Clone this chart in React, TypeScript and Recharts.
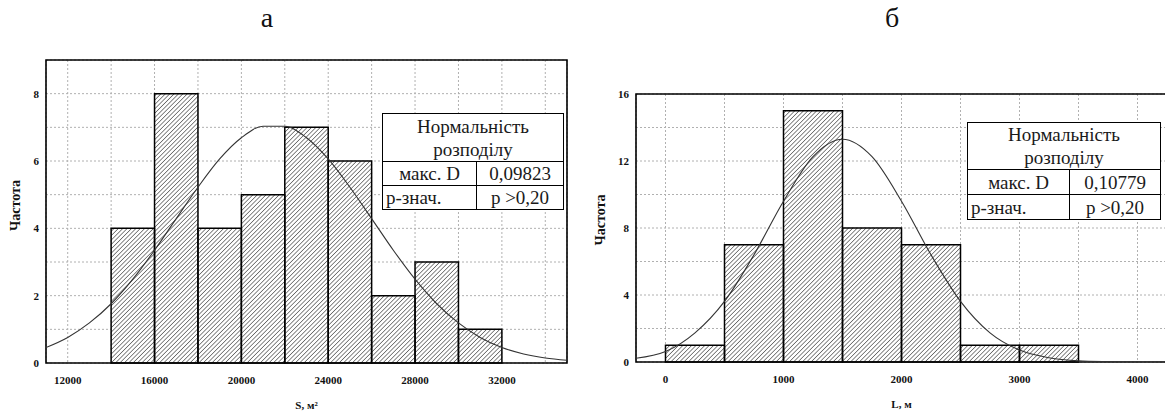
import { ComposedChart, Line, XAxis, YAxis, CartesianGrid, ReferenceArea } from 'recharts'

// panel "а" — площа S, м²
const areaEdges = [14000, 16000, 18000, 20000, 22000, 24000, 26000, 28000, 30000, 32000]
const areaCounts = [4, 8, 4, 5, 7, 6, 2, 3, 1]
const areaCurveX = [
  11000, 12000, 13000, 14000, 15000, 16000, 17000, 18000, 19000, 20000, 21000, 22000, 23000,
  24000, 25000, 26000, 27000, 28000, 29000, 30000, 31000, 32000, 33000, 34000, 35000,
]
const areaCurveY = [
  0.46, 0.76, 1.19, 1.76, 2.49, 3.35, 4.29, 5.22, 6.06, 6.69, 7.03, 7.03, 6.69,
  6.06, 5.22, 4.29, 3.35, 2.49, 1.76, 1.19, 0.76, 0.46, 0.27, 0.15, 0.08,
]
const areaXTicks = [12000, 14000, 16000, 18000, 20000, 22000, 24000, 26000, 28000, 30000, 32000, 34000]
const areaXLabels = [12000, 16000, 20000, 24000, 28000, 32000]
const areaYTicks = [0, 1, 2, 3, 4, 5, 6, 7, 8, 9]
const areaYLabels = [0, 2, 4, 6, 8]
const areaStats = ['0,09823', 'p >0,20']

// panel "б" — довжина L, м
const lengthEdges = [0, 500, 1000, 1500, 2000, 2500, 3000, 3500]
const lengthCounts = [1, 7, 15, 8, 7, 1, 1]
const lengthCurveX = [
  -250, 0, 250, 500, 750, 1000, 1250, 1500, 1750, 2000, 2250, 2500, 2750, 3000, 3250, 3500,
  3750, 4000, 4250,
]
const lengthCurveY = [
  0.22, 0.62, 1.74, 3.62, 6.4, 9.6, 12.26, 13.3, 12.26, 9.6, 6.4, 3.62, 1.74, 0.71, 0.25, 0.07,
  0.02, 0, 0,
]
const lengthXTicks = [0, 500, 1000, 1500, 2000, 2500, 3000, 3500, 4000]
const lengthXLabels = [0, 1000, 2000, 3000, 4000]
const lengthYTicks = [0, 2, 4, 6, 8, 10, 12, 14, 16]
const lengthYLabels = [0, 4, 8, 12, 16]
const lengthStats = ['0,10779', 'p >0,20']

const FONT = "'Liberation Serif', serif"

interface HistProps {
  id: string
  left: number
  width: number
  edges: number[]
  counts: number[]
  curveX: number[]
  curveY: number[]
  xDomain: [number, number]
  xTicks: number[]
  xLabels: number[]
  yDomain: [number, number]
  yTicks: number[]
  yLabels: number[]
  xTitle: string
  top: number
  axisWidth: number
  axisHeight: number
  marginRight: number
  yLabelShift: number
}

function Histogram(p: HistProps) {
  const data = p.curveX.map((x, i) => ({ x, y: p.curveY[i] }))
  const tickStyle = { fontFamily: FONT, fontSize: 11, fill: '#111', fontWeight: 'bold' as const }

  const xTitle = (props: any) => {
    const vb = props.viewBox
    return (
      <text x={vb.x + vb.width / 2} y={vb.y + 46} textAnchor="middle" style={{ fontFamily: FONT }}
        fontSize={11} fontWeight="bold" fill="#111">
        {p.xTitle}
      </text>
    )
  }
  const yTitle = (props: any) => {
    const vb = props.viewBox
    const cx = vb.x + 15
    const cy = vb.y + vb.height / 2 + p.yLabelShift
    return (
      <text x={cx} y={cy} dy="0.35em" textAnchor="middle" transform={`rotate(-90, ${cx}, ${cy})`}
        style={{ fontFamily: FONT }} fontSize={14} fontWeight="bold" fill="#111">
        Частота
      </text>
    )
  }

  return (
    <div style={{ position: 'absolute', left: p.left, top: 0 }}>
      <ComposedChart width={p.width} height={412} data={data}
        margin={{ top: p.top, right: p.marginRight, bottom: 0, left: 0 }}>
        <defs>
          <pattern id={`hatch-${p.id}`} patternUnits="userSpaceOnUse" width={3.1} height={3.1}
            patternTransform="rotate(45)">
            <line x1={0} y1={0} x2={0} y2={3.1} stroke="#111" strokeWidth={1} />
          </pattern>
        </defs>
        <CartesianGrid stroke="#b0b0b0" strokeDasharray="2 2" />
        <XAxis type="number" dataKey="x" domain={p.xDomain} ticks={p.xTicks} interval={0}
          allowDataOverflow height={p.axisHeight} axisLine={false} tickLine={false}
          tickSize={6} tickMargin={7} tick={tickStyle}
          tickFormatter={(v: number) => (p.xLabels.includes(v) ? String(v) : '')}
          label={xTitle} />
        <YAxis type="number" domain={p.yDomain} ticks={p.yTicks} interval={0}
          allowDataOverflow width={p.axisWidth} axisLine={false} tickLine={false}
          tickSize={3} tickMargin={4} tick={tickStyle}
          tickFormatter={(v: number) => (p.yLabels.includes(v) ? String(v) : '')}
          label={yTitle} />
        {/* white body of each bin, so grid lines stay hidden */}
        {p.counts.map((c, i) => (
          <ReferenceArea key={`bin-${i}`} x1={p.edges[i]} x2={p.edges[i + 1]} y1={0} y2={c}
            fill="#fff" fillOpacity={1} stroke="none" />
        ))}
        <Line type="monotone" dataKey="y" stroke="#333" strokeWidth={1.1} dot={false}
          isAnimationActive={false} />
        {/* hatching drawn over the curve, as in the original */}
        {p.counts.map((c, i) => (
          <ReferenceArea key={`over-${i}`} x1={p.edges[i]} x2={p.edges[i + 1]} y1={0} y2={c}
            fill={`url(#hatch-${p.id})`} fillOpacity={1} stroke="#000" strokeWidth={1.5} />
        ))}
        <ReferenceArea x1={p.xDomain[0]} x2={p.xDomain[1]} y1={p.yDomain[0]} y2={p.yDomain[1]}
          fill="none" fillOpacity={0} stroke="#000" strokeWidth={1.6} ifOverflow="visible" />
      </ComposedChart>
    </div>
  )
}

interface StatsProps {
  left: number
  top: number
  width: number
  split: number
  titleHeight: number
  rowHeight: number
  values: string[]
}

function StatsTable({ left, top, width, split, titleHeight, rowHeight, values }: StatsProps) {
  const cell = {
    border: '1.5px solid #000', padding: 0, height: rowHeight, lineHeight: 1,
    fontFamily: FONT, fontSize: 19, color: '#1a1a1a', whiteSpace: 'nowrap' as const,
  }
  return (
    <table style={{
      position: 'absolute', left, top, width, borderCollapse: 'collapse', background: '#fff',
      fontFamily: FONT, fontSize: 19, color: '#1a1a1a', tableLayout: 'fixed',
    }}>
      <colgroup>
        <col style={{ width: split }} />
        <col />
      </colgroup>
      <tbody>
        <tr>
          <td colSpan={2} style={{ ...cell, height: titleHeight, textAlign: 'center', lineHeight: '23px' }}>
            Нормальність<br />розподілу
          </td>
        </tr>
        <tr>
          <td style={{ ...cell, textAlign: 'center' }}>макс. D</td>
          <td style={{ ...cell, textAlign: 'center' }}>{values[0]}</td>
        </tr>
        <tr>
          <td style={{ ...cell, textAlign: 'left', paddingLeft: 3 }}>p-знач.</td>
          <td style={{ ...cell, textAlign: 'center' }}>{values[1]}</td>
        </tr>
      </tbody>
    </table>
  )
}

export default function App() {
  const title = { position: 'absolute' as const, top: 2, width: 30, textAlign: 'center' as const, fontFamily: FONT, fontSize: 28, color: '#111' }
  return (
    <div style={{ position: 'fixed', left: 0, top: 0, width: 1165, height: 412, overflow: 'hidden', background: '#fff', fontFamily: FONT }}>
      <div style={{ ...title, left: 252 }}>а</div>
      <div style={{ ...title, left: 877 }}>б</div>

      <Histogram id="a" left={0} width={580} edges={areaEdges} counts={areaCounts}
        curveX={areaCurveX} curveY={areaCurveY} xDomain={[11000, 35000]} xTicks={areaXTicks}
        xLabels={areaXLabels} yDomain={[0, 9]} yTicks={areaYTicks} yLabels={areaYLabels}
        xTitle="S, м²" top={60} axisWidth={46} axisHeight={49} marginRight={13} yLabelShift={-6} />
      <Histogram id="b" left={585} width={580} edges={lengthEdges} counts={lengthCounts}
        curveX={lengthCurveX} curveY={lengthCurveY} xDomain={[-250, 4250]} xTicks={lengthXTicks}
        xLabels={lengthXLabels} yDomain={[0, 16]} yTicks={lengthYTicks} yLabels={lengthYLabels}
        xTitle="L, м" top={94} axisWidth={51} axisHeight={50} marginRight={-2} yLabelShift={-8} />

      <StatsTable left={382} top={113} width={182} split={94} titleHeight={47} rowHeight={23} values={areaStats} />
      <StatsTable left={967} top={122} width={194} split={102} titleHeight={45} rowHeight={24} values={lengthStats} />
    </div>
  )
}
